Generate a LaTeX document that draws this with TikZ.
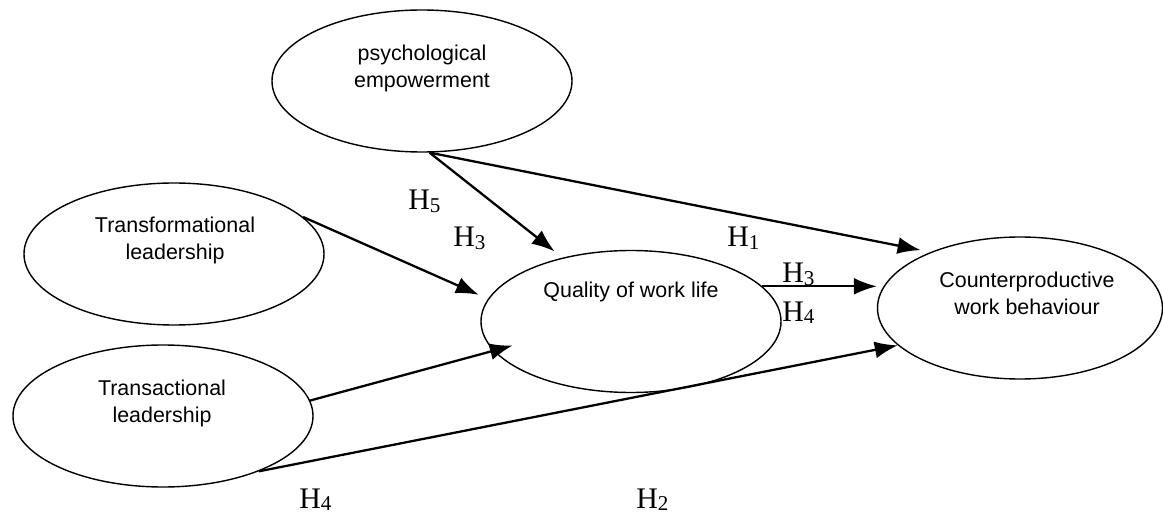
\documentclass[tikz,border=0pt]{standalone}
\usepackage{fontspec}
\usetikzlibrary{shapes.geometric, arrows.meta}
\newfontfamily\labelfont{Liberation Sans}
\newfontfamily\hypfont{Liberation Serif}
\newcommand{\hsub}[1]{H\raisebox{-0.1em}{\fontsize{12}{12}\selectfont #1}}
\tikzstyle{construct}=[ellipse,
                             draw=black,
                             line width=0.8pt,
                             inner sep=0pt,
                             minimum width=6cm,
                             minimum height=2.84cm
                            ]
\tikzstyle{caption}=[align=center, anchor=base, inner sep=0pt,
                             font=\labelfont\fontsize{12.2}{15.6}\selectfont]
\tikzstyle{hyp}=[anchor=base west, inner sep=0pt,
                             font=\hypfont\fontsize{17}{17}\selectfont]
\tikzstyle{link}=[line width=1.3pt, -{Latex[length=4.6mm, width=3.4mm]}]

\begin{document}
\begin{tikzpicture}
  \useasboundingbox (0cm, 0cm) rectangle (23.26cm, -10.28cm);

  \node at (8.44cm, -1.62cm) (psy) [construct] {};
  \node at (3.48cm, -5.08cm) (tfl) [construct] {};
  \node at (3.26cm, -8.32cm) (tsl) [construct] {};
  \node at (12.62cm, -6.43cm) (qwl) [construct] {};
  \node at (20.40cm, -6.16cm) (cwb) [construct, minimum width=5.7cm] {};

  \node at (8.44cm, -1.75cm) (psyt) [caption] {psychological\\empowerment};
  \node at (3.50cm, -5.19cm) (tflt) [caption] {Transformational\\leadership};
  \node at (3.24cm, -8.45cm) (tslt) [caption] {Transactional\\leadership};
  \node at (12.62cm, -5.96cm) (qwlt) [caption] {Quality of work life};
  \node at (20.54cm, -6.29cm) (cwbt) [caption] {Counterproductive\\work behaviour};

  \draw[link, shorten >=0.2cm] (psy.-84) -- (qwl.137);
  \draw[link, shorten >=0.2cm] (psy.-84) -- (cwb.148);
  \draw[link, shorten >=0.2cm] (tfl.16) -- (qwl.171);
  \draw[link, shorten >=-0.4cm] (tsl.6) -- (qwl.192);
  \draw[link] (qwl.15) -- (qwl.15 -| cwb.west);
  \draw[link] (tsl.-30) -- (cwb.197);

  \node at (8.16cm, -4.20cm) (h5) [hyp] {\hsub{5}};
  \node at (9.06cm, -4.94cm) (h3a) [hyp] {\hsub{3}};
  \node at (14.54cm, -4.94cm) (h1) [hyp] {\hsub{1}};
  \node at (15.64cm, -5.66cm) (h3b) [hyp] {\hsub{3}};
  \node at (15.64cm, -6.42cm) (h4a) [hyp] {\hsub{4}};
  \node at (5.98cm, -10.16cm) (h4b) [hyp] {\hsub{4}};
  \node at (12.72cm, -10.16cm) (h2) [hyp] {\hsub{2}};
\end{tikzpicture}
\end{document}
